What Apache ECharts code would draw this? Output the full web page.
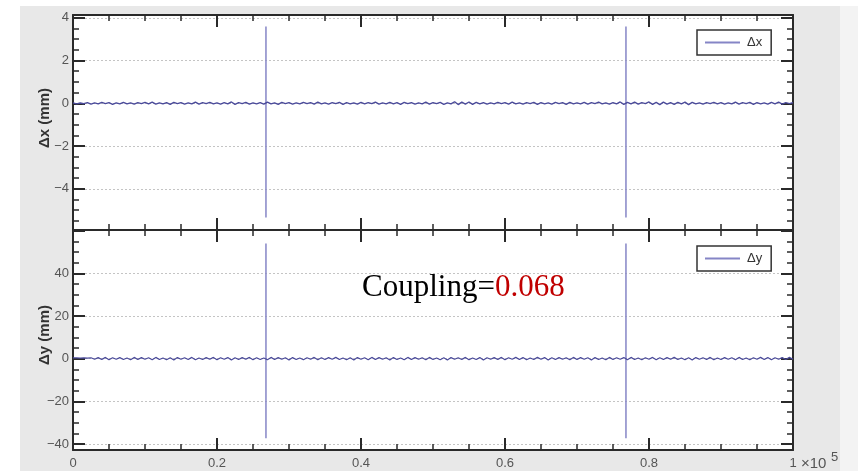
<!DOCTYPE html>
<html>
<head>
<meta charset="utf-8">
<script src="https://cdn.jsdelivr.net/npm/echarts@6/dist/echarts.min.js"></script>
<style>
  html, body { margin: 0; padding: 0; background: #ffffff; }
  #panel { position: absolute; left: 20px; top: 6px; width: 820px; height: 465px; background: #e8e8e8; }
  #edge { position: absolute; left: 840px; top: 6px; width: 18px; height: 465px; background: #f3f3f3; }
  #chart { position: absolute; left: 0; top: 0; width: 858px; height: 471px; }
</style>
</head>
<body>
<div id="panel"></div>
<div id="edge"></div>
<div id="chart"></div>
<script>
// Turn range and sampling of the orbit-difference record
const turnMin = 0;
const turnMax = 100000;
const sampleStep = 500;
const xTickLabels = ['0', '0.2', '0.4', '0.6', '0.8', '1'];

// Horizontal difference Δx (mm), one sample every sampleStep turns
const dxValues = [
  0.02,-0.03,0.01,-0.02,0.03,-0.04,0.02,-0.03,0.04,-0.02,0.03,-0.05,0.02,-0.03,0.04,-0.03,0.02,-0.04,0.03,-0.02,
  0.04,-0.03,0.05,-0.04,0.02,-0.03,0.03,-0.05,0.04,-0.02,0.03,-0.04,0.02,-0.03,0.05,-0.04,0.03,-0.02,0.04,-0.03,
  0.02,-0.04,0.03,-0.03,0.06,-0.05,0.03,-0.02,0.04,-0.04,0.02,-0.03,0.03,-0.04,0.05,-0.03,0.02,-0.05,0.04,-0.02,
  0.03,-0.04,0.02,-0.03,0.04,-0.02,0.03,-0.04,0.05,-0.03,0.02,-0.04,0.03,-0.02,0.04,-0.05,0.03,-0.03,0.02,-0.04,
  0.04,-0.03,0.03,-0.02,0.05,-0.04,0.02,-0.03,0.04,-0.03,0.03,-0.05,0.04,-0.02,0.03,-0.04,0.02,-0.03,0.05,-0.04,
  0.03,-0.02,0.04,-0.05,0.02,-0.03,0.07,-0.06,0.05,-0.04,0.06,-0.05,0.04,-0.03,0.03,-0.04,0.02,-0.03,0.04,-0.02,
  0.03,-0.04,0.05,-0.03,0.02,-0.04,0.03,-0.02,0.04,-0.05,0.03,-0.03,0.02,-0.04,0.04,-0.02,0.03,-0.05,0.04,-0.03,
  0.02,-0.03,0.04,-0.04,0.03,-0.02,0.05,-0.03,0.02,-0.04,0.03,-0.03,0.06,-0.05,0.04,-0.03,0.05,-0.04,0.03,-0.02,
  0.06,-0.05,0.04,-0.06,0.05,-0.04,0.03,-0.05,0.04,-0.03,0.05,-0.06,0.04,-0.03,0.02,-0.04,0.03,-0.02,0.04,-0.03,
  0.03,-0.04,0.02,-0.03,0.05,-0.04,0.03,-0.02,0.04,-0.05,0.03,-0.03,0.02,-0.04,0.04,-0.03,0.05,-0.04,0.03,-0.02,
  0.03
];

// Vertical difference Δy (mm), same sampling
const dyValues = [
  0.4,0.4,0.3,0.4,0.3,0.4,-0.3,0.5,-0.4,0.6,-0.5,0.4,-0.3,0.5,-0.4,0.3,-0.5,0.6,-0.4,0.5,
  -0.3,0.4,-0.5,0.6,-0.4,0.3,-0.5,0.4,-0.6,0.5,-0.3,0.4,-0.4,0.6,-0.5,0.3,-0.4,0.5,-0.3,0.6,
  -0.5,0.4,-0.3,0.5,-0.6,0.4,-0.4,0.5,-0.3,0.6,-0.5,0.4,-0.4,0.3,-0.5,0.6,-0.4,0.5,-0.3,0.4,
  -0.6,0.5,-0.4,0.3,-0.5,0.4,-0.3,0.6,-0.5,0.4,-0.4,0.5,-0.3,0.6,-0.4,0.3,-0.5,0.4,-0.6,0.5,
  -0.3,0.4,-0.5,0.6,-0.4,0.5,-0.3,0.4,-0.6,0.5,-0.4,0.3,-0.5,0.6,-0.4,0.5,-0.3,0.4,-0.5,0.6,
  -0.4,0.3,-0.5,0.4,-0.6,0.5,-0.3,0.4,-0.4,0.6,-0.5,0.3,-0.4,0.5,-0.6,0.4,-0.3,0.5,-0.4,0.6,
  -0.5,0.4,-0.3,0.6,-0.4,0.5,-0.5,0.3,-0.4,0.6,-0.3,0.5,-0.6,0.4,-0.4,0.5,-0.3,0.4,-0.5,0.6,
  -0.4,0.5,-0.3,0.4,-0.6,0.5,-0.4,0.3,-0.5,0.6,-0.4,0.4,-0.3,0.5,-0.5,0.6,-0.4,0.3,-0.5,0.4,
  -0.3,0.6,-0.5,0.4,-0.4,0.5,-0.3,0.6,-0.4,0.3,-0.5,0.4,-0.6,0.5,-0.3,0.4,-0.4,0.6,-0.5,0.3,
  -0.4,0.5,-0.3,0.4,-0.5,0.6,-0.4,0.3,-0.5,0.4,-0.3,0.6,-0.4,0.5,-0.5,0.4,-0.3,0.5,-0.4,0.6,
  -0.3
];

// Kick events: turn number and the excursion range reached in each plane
const kickTurns = [26800, 76800];
const dxKickHigh = [3.59, 3.59];
const dxKickLow = [-5.34, -5.34];
const dyKickHigh = [54.0, 54.0];
const dyKickLow = [-37.3, -37.3];

// Axis ranges (mm)
const dxRange = [-5.93, 4.13];
const dyRange = [-42.8, 60.3];

const dxTitle = '\u0394x (mm)';
const dyTitle = '\u0394y (mm)';
const couplingLabel = 'Coupling=';
const couplingValue = '0.068';

// Regular samples as [turn, value] pairs
function samplePairs(values) {
  return values.map((v, i) => [turnMin + i * sampleStep, v]);
}

// Vertical strokes at each kick turn; '-' breaks the line between kicks
function kickPairs(highs, lows) {
  const out = [];
  kickTurns.forEach((t, k) => {
    if (k > 0) out.push('-');
    out.push([t, highs[k]], [t, lows[k]]);
  });
  return out;
}

const frameColor = '#2a2a2a';
const traceColor = '#4a4a9a';
const kickColor = '#8585c6';
const labelFont = 'Liberation Sans, Arial, sans-serif';

function fmtMinus(s) { return String(s).replace('-', '\u2212'); }

function xAxisDef(gridIndex, position, withLabels) {
  return {
    type: 'value', gridIndex, position,
    min: turnMin, max: turnMax, interval: 20000,
    axisLine: { show: true, onZero: false, lineStyle: { color: frameColor, width: 2 } },
    axisTick: { show: true, inside: true, length: 12, lineStyle: { color: frameColor, width: 2 } },
    minorTick: { show: true, splitNumber: 4, length: 6, lineStyle: { color: frameColor, width: 1.5 } },
    splitLine: { show: false },
    axisLabel: withLabels ? {
      show: true, margin: 7, color: '#555', fontSize: 13, fontFamily: labelFont,
      formatter: v => xTickLabels[Math.round(v / 20000)] ?? ''
    } : { show: false }
  };
}

function yAxisDef(gridIndex, position, range, step, labelMax, main) {
  return {
    type: 'value', gridIndex, position,
    min: range[0], max: range[1], splitNumber: 5,
    axisLine: { show: true, onZero: false, lineStyle: { color: frameColor, width: 2 } },
    axisTick: { show: true, inside: true, length: 12, lineStyle: { color: frameColor, width: 2 } },
    minorTick: { show: true, splitNumber: 4, length: 6, lineStyle: { color: frameColor, width: 1.5 } },
    splitLine: main ? { show: true, lineStyle: { color: '#c4c4c4', type: [2, 2], width: 1 } } : { show: false },
    axisLabel: main ? {
      show: true, margin: 4, color: '#555', fontSize: 13, fontFamily: labelFont,
      showMinLabel: false, showMaxLabel: false,
      formatter: v => {
        const r = v / step;
        if (v > labelMax + 1e-9) return '';
        return Math.abs(r - Math.round(r)) < 1e-6 ? fmtMinus(Math.round(r) * step) : '';
      }
    } : { show: false }
  };
}

const legendStyle = {
  orient: 'horizontal', left: 697,
  backgroundColor: '#ffffff', borderColor: '#333', borderWidth: 1.5, borderRadius: 0,
  padding: [6, 9, 6, 8], icon: 'rect', itemWidth: 35, itemHeight: 2, itemGap: 0,
  textStyle: { fontFamily: labelFont, fontSize: 13, color: '#333', padding: [0, 0, 0, 2] }
};

function traceSeries(name, axis, data, color, width) {
  return {
    name, type: 'line', xAxisIndex: axis, yAxisIndex: axis,
    data, symbol: 'none', showSymbol: false, connectNulls: false,
    lineStyle: { color, width }, itemStyle: { color }
  };
}

function axisTitle(text, x, y) {
  return {
    type: 'text', x, y, rotation: Math.PI / 2, z: 10,
    style: {
      text, fontFamily: labelFont, fontWeight: 'bold', fontSize: 15, fill: '#333',
      align: 'center', verticalAlign: 'middle'
    }
  };
}

const chart = echarts.init(document.getElementById('chart'), null, { renderer: 'canvas' });
chart.setOption({
  backgroundColor: 'transparent',
  animation: false,
  grid: [
    { left: 73, top: 15, width: 720, height: 215, show: true, backgroundColor: '#ffffff', borderWidth: 0 },
    { left: 73, top: 230, width: 720, height: 220, show: true, backgroundColor: '#ffffff', borderWidth: 0 }
  ],
  xAxis: [
    xAxisDef(0, 'bottom', false),
    xAxisDef(0, 'top', false),
    xAxisDef(1, 'bottom', true),
    xAxisDef(1, 'top', false)
  ],
  yAxis: [
    yAxisDef(0, 'left', dxRange, 2, 4, true),
    yAxisDef(0, 'right', dxRange, 2, 4, false),
    yAxisDef(1, 'left', dyRange, 20, 40, true),
    yAxisDef(1, 'right', dyRange, 20, 40, false)
  ],
  legend: [
    Object.assign({ top: 30, data: [{ name: '\u0394x', itemStyle: { color: kickColor } }] }, legendStyle),
    Object.assign({ top: 246, data: [{ name: '\u0394y', itemStyle: { color: kickColor } }] }, legendStyle)
  ],
  series: [
    traceSeries('\u0394x', 0, kickPairs(dxKickHigh, dxKickLow), kickColor, 1.5),
    traceSeries('\u0394x', 0, samplePairs(dxValues), traceColor, 1.4),
    traceSeries('\u0394y', 2, kickPairs(dyKickHigh, dyKickLow), kickColor, 1.5),
    traceSeries('\u0394y', 2, samplePairs(dyValues), traceColor, 1.2)
  ].map((s, i) => (i >= 2 ? Object.assign(s, { xAxisIndex: 2, yAxisIndex: 2 }) : s)),
  graphic: [
    axisTitle(dxTitle, 45, 118),
    axisTitle(dyTitle, 45, 335),
    {
      type: 'text', left: 362, top: 272, z: 10,
      style: {
        text: '{a|' + couplingLabel + '}{b|' + couplingValue + '}',
        rich: {
          a: { fontFamily: 'Liberation Serif, Times New Roman, serif', fontSize: 31, fill: '#000' },
          b: { fontFamily: 'Liberation Serif, Times New Roman, serif', fontSize: 31, fill: '#c00000' }
        }
      }
    },
    {
      type: 'text', left: 801, top: 456, z: 10,
      style: { text: '\u00d710', fontFamily: labelFont, fontSize: 15, fill: '#555' }
    },
    {
      type: 'text', left: 831, top: 451, z: 10,
      style: { text: '5', fontFamily: labelFont, fontSize: 13, fill: '#555' }
    }
  ]
});
</script>
</body>
</html>
